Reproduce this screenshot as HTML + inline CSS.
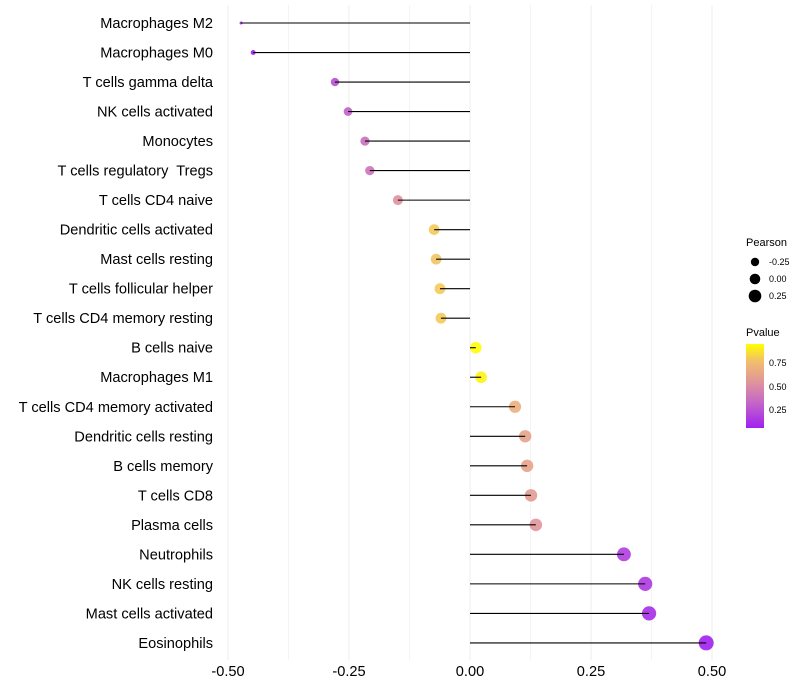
<!DOCTYPE html>
<html><head><meta charset="utf-8"><style>
body{margin:0;background:#fff;font-family:"Liberation Sans",sans-serif}
svg{display:block}
text{white-space:pre}
</style></head><body>
<svg id="chart" width="800" height="700">
<defs><linearGradient id="pg" x1="0" y1="1" x2="0" y2="0">
<stop offset="0" stop-color="#A020F0"/><stop offset="0.3" stop-color="#C466C8"/><stop offset="0.55" stop-color="#E0959A"/><stop offset="0.8" stop-color="#F2C06A"/><stop offset="1" stop-color="#FFFF00"/></linearGradient></defs>
<g id="grid"></g><g id="marks"></g><g id="labels"></g>
<g font-size="11">
<text x="746" y="246">Pearson</text>
<circle cx="755" cy="262" r="4.2"/><text x="769" y="265" font-size="9">-0.25</text>
<circle cx="755" cy="279" r="5.3"/><text x="769" y="282" font-size="9">0.00</text>
<circle cx="755" cy="296" r="6.3"/><text x="769" y="299" font-size="9">0.25</text>
<text x="746" y="336">Pvalue</text>
<rect x="746" y="344" width="18" height="84" fill="url(#pg)"/>
<text x="769" y="366" font-size="9">0.75</text>
<text x="769" y="390" font-size="9">0.50</text>
<text x="769" y="413" font-size="9">0.25</text>
</g>
</svg>
<script>
const categories=["Macrophages M2","Macrophages M0","T cells gamma delta","NK cells activated","Monocytes","T cells regulatory  Tregs","T cells CD4 naive","Dendritic cells activated","Mast cells resting","T cells follicular helper","T cells CD4 memory resting","B cells naive","Macrophages M1","T cells CD4 memory activated","Dendritic cells resting","B cells memory","T cells CD8","Plasma cells","Neutrophils","NK cells resting","Mast cells activated","Eosinophils"];
const pearson=[-0.473,-0.448,-0.279,-0.252,-0.217,-0.207,-0.149,-0.074,-0.070,-0.062,-0.060,0.012,0.023,0.093,0.114,0.118,0.126,0.136,0.318,0.362,0.370,0.488];
const pvalue=[0.02,0.04,0.24,0.3,0.37,0.39,0.53,0.8,0.78,0.8,0.8,0.95,0.92,0.68,0.62,0.62,0.58,0.55,0.17,0.16,0.11,0.03];
const xticks=[-0.5,-0.25,0,0.25,0.5];
const xtickLabels=["-0.50","-0.25","0.00","0.25","0.50"];
const NS="http://www.w3.org/2000/svg";
const x=v=>470+v*484;
const y=i=>23+i*29.52;
function mk(tag,attrs,parent){const e=document.createElementNS(NS,tag);for(const k in attrs)e.setAttribute(k,attrs[k]);parent.appendChild(e);return e;}
const grid=document.getElementById('grid'),marks=document.getElementById('marks'),labels=document.getElementById('labels');
for(let k=0;k<=8;k++){const t=-0.5+k*0.125;mk('line',{x1:x(t),x2:x(t),y1:5,y2:660,stroke:k%2?'#f4f4f4':'#ededed','stroke-width':1},grid);}
const stops=[[0,[160,32,240]],[0.3,[196,102,200]],[0.55,[224,149,154]],[0.8,[242,192,106]],[1,[255,255,0]]];
function col(p){const lo=0.06,hi=0.95;let f=Math.max(0,Math.min(1,(p-lo)/(hi-lo)));for(let i=1;i<stops.length;i++){if(f<=stops[i][0]){const a=stops[i-1],b=stops[i];const t=(f-a[0])/(b[0]-a[0]);const c=a[1].map((v,j)=>Math.round(v+(b[1][j]-v)*t));return `rgb(${c})`;}}return 'rgb(255,255,0)';}
const mn=Math.min(...pearson),mx=Math.max(...pearson);
function rad(v){const f=(v-mn)/(mx-mn);return 1.5+6*Math.sqrt(f);}
categories.forEach((c,i)=>{
 const cy=y(i),v=pearson[i];
 const pt=mk('circle',{cx:x(v),cy:cy,r:rad(v),fill:col(pvalue[i]),'fill-opacity':0.9},marks);
 
 
 const ln=mk('line',{x1:x(0),x2:x(v),y1:cy,y2:cy,stroke:'#000','stroke-width':1.1},marks);
 
 
 const tx=mk('text',{x:213,y:cy+5,'text-anchor':'end','font-size':14.6,fill:'#000'},labels);
 tx.textContent=c;
 
 
});
xticks.forEach((t,i)=>{
 const tx=mk('text',{x:x(t),y:676,'text-anchor':'middle','font-size':14.6,fill:'#000'},labels);
 tx.textContent=xtickLabels[i];
 
 
});
</script>
</body></html>
